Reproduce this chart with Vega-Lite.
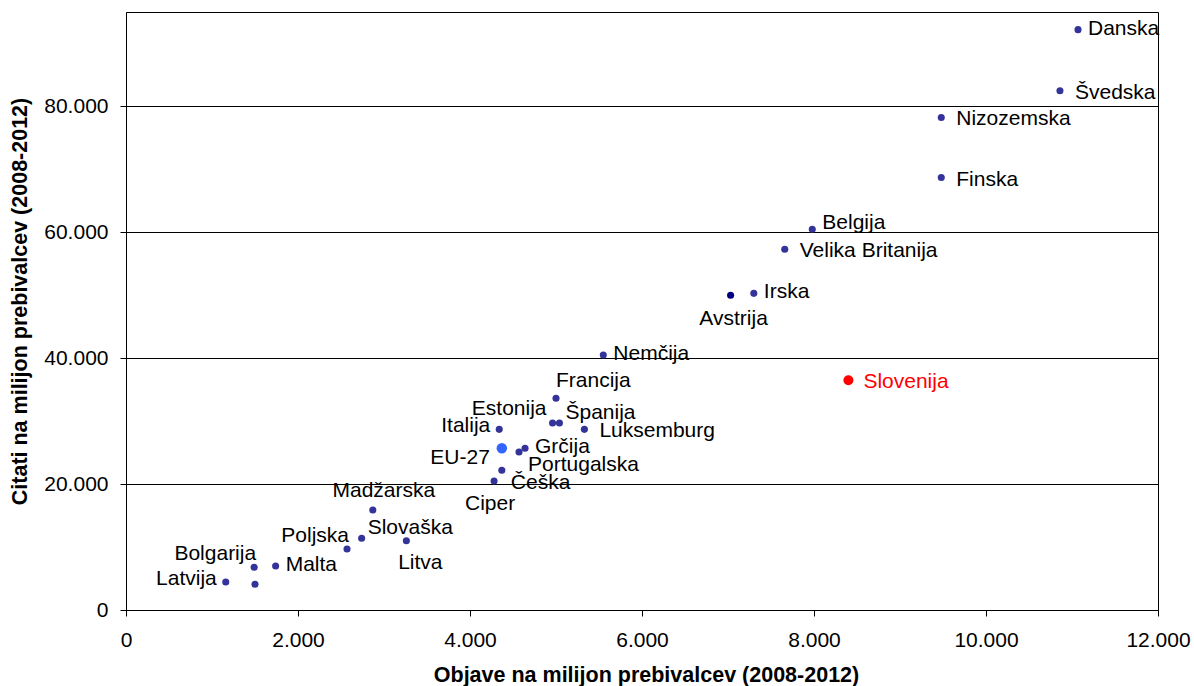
{
  "$schema": "https://vega.github.io/schema/vega-lite/v6.json",
  "width": 1032,
  "height": 598,
  "autosize": {"type": "none"},
  "padding": {"left": 126, "top": 12, "right": 36, "bottom": 76},
  "background": "white",
  "config": {
    "font": "Liberation Sans",
    "view": {"stroke": "black", "strokeWidth": 1},
    "axis": {
      "labelFont": "Liberation Sans",
      "titleFont": "Liberation Sans",
      "labelFontSize": 21,
      "titleFontSize": 21.5,
      "titleFontWeight": "bold",
      "labelColor": "black",
      "titleColor": "black",
      "domainColor": "black",
      "tickColor": "black",
      "tickSize": 6
    }
  },
  "data": {
    "values": [
      {"country": "Danska", "objave": 11070, "citati": 92200},
      {"country": "Švedska", "objave": 10860, "citati": 82500},
      {"country": "Nizozemska", "objave": 9480, "citati": 78250},
      {"country": "Finska", "objave": 9480, "citati": 68700},
      {"country": "Belgija", "objave": 7980, "citati": 60500},
      {"country": "Velika Britanija", "objave": 7660, "citati": 57300},
      {"country": "Irska", "objave": 7300, "citati": 50300},
      {"country": "Avstrija", "objave": 7030, "citati": 50000},
      {"country": "Nemčija", "objave": 5550, "citati": 40500},
      {"country": "Slovenija", "objave": 8400, "citati": 36500},
      {"country": "Francija", "objave": 5000, "citati": 33650},
      {"country": "Estonija", "objave": 4960, "citati": 29700},
      {"country": "Španija", "objave": 5040, "citati": 29700},
      {"country": "Luksemburg", "objave": 5330, "citati": 28700},
      {"country": "Italija", "objave": 4340, "citati": 28700},
      {"country": "EU-27", "objave": 4370, "citati": 25700},
      {"country": "Grčija", "objave": 4640, "citati": 25700},
      {"country": "Portugalska", "objave": 4570, "citati": 25100},
      {"country": "Češka", "objave": 4370, "citati": 22200},
      {"country": "Ciper", "objave": 4280, "citati": 20500},
      {"country": "Madžarska", "objave": 2870, "citati": 15900},
      {"country": "Slovaška", "objave": 2740, "citati": 11400},
      {"country": "Litva", "objave": 3260, "citati": 11000},
      {"country": "Poljska", "objave": 2570, "citati": 9700},
      {"country": "Malta", "objave": 1740, "citati": 7000},
      {"country": "Bolgarija", "objave": 1490, "citati": 6800},
      {"country": "Romunija", "objave": 1500, "citati": 4100},
      {"country": "Latvija", "objave": 1160, "citati": 4450}
    ]
  },
  "encoding": {
    "x": {
      "field": "objave", "type": "quantitative",
      "scale": {"domain": [0, 12000], "nice": false, "zero": true},
      "axis": {
        "title": "Objave na milijon prebivalcev (2008-2012)",
        "values": [0, 2000, 4000, 6000, 8000, 10000, 12000],
        "labelExpr": "replace(format(datum.value, ','), ',', '.')",
        "grid": false,
        "labelPadding": 13,
        "labelFlush": false,
        "titleX": 520, "titleY": 65, "titleAlign": "center", "titleBaseline": "middle"
      }
    },
    "y": {
      "field": "citati", "type": "quantitative",
      "scale": {"domain": [0, 95000], "nice": false, "zero": true},
      "axis": {
        "title": "Citati na milijon prebivalcev (2008-2012)",
        "values": [0, 20000, 40000, 60000, 80000],
        "labelExpr": "replace(format(datum.value, ','), ',', '.')",
        "grid": true,
        "gridColor": "black",
        "gridWidth": 1,
        "gridOpacity": 1,
        "labelPadding": 12,
        "labelFlush": false,
        "titleAngle": -90,
        "titleX": -106, "titleY": 289, "titleAlign": "center", "titleBaseline": "middle"
      }
    }
  },
  "layer": [
    {
      "mark": {"type": "point", "filled": true, "opacity": 1, "strokeWidth": 0},
      "encoding": {
        "color": {
          "condition": [
            {"test": "datum.country === 'Slovenija'", "value": "#FF0000"},
            {"test": "datum.country === 'EU-27'", "value": "#3366FF"},
            {"test": "datum.country === 'Avstrija'", "value": "#000080"}
          ],
          "value": "#333399"
        },
        "size": {
          "condition": [
            {"test": "datum.country === 'Slovenija'", "value": 100},
            {"test": "datum.country === 'EU-27'", "value": 110}
          ],
          "value": 50
        }
      }
    },
    {
      "transform": [{"filter": {"field": "country", "oneOf": ["Švedska", "Nizozemska", "Finska", "Velika Britanija", "Slovenija", "Luksemburg"]}}],
      "mark": {"type": "text", "align": "left", "baseline": "middle", "dx": 15, "dy": 2, "fontSize": 21, "font": "Liberation Sans"},
      "encoding": {
        "text": {"field": "country"},
        "color": {"condition": {"test": "datum.country === 'Slovenija'", "value": "#FF0000"}, "value": "black"}
      }
    },
    {
      "transform": [{"filter": {"field": "country", "oneOf": ["Danska", "Irska", "Nemčija", "Malta", "Grčija"]}}],
      "mark": {"type": "text", "align": "left", "baseline": "middle", "dx": 10, "dy": -1, "fontSize": 21, "font": "Liberation Sans", "color": "black"},
      "encoding": {"text": {"field": "country"}}
    },
    {
      "transform": [{"filter": {"field": "country", "oneOf": ["Belgija"]}}],
      "mark": {"type": "text", "align": "left", "baseline": "middle", "dx": 10, "dy": -6, "fontSize": 21, "font": "Liberation Sans", "color": "black"},
      "encoding": {"text": {"field": "country"}}
    },
    {
      "transform": [{"filter": {"field": "country", "oneOf": ["Španija", "Slovaška"]}}],
      "mark": {"type": "text", "align": "left", "baseline": "middle", "dx": 6, "dy": -10, "fontSize": 21, "font": "Liberation Sans", "color": "black"},
      "encoding": {"text": {"field": "country"}}
    },
    {
      "transform": [{"filter": {"field": "country", "oneOf": ["Portugalska", "Češka"]}}],
      "mark": {"type": "text", "align": "left", "baseline": "middle", "dx": 9, "dy": 13, "fontSize": 21, "font": "Liberation Sans", "color": "black"},
      "encoding": {"text": {"field": "country"}}
    },
    {
      "transform": [{"filter": {"field": "country", "oneOf": ["Francija"]}}],
      "mark": {"type": "text", "align": "left", "baseline": "middle", "dx": 0, "dy": -17, "fontSize": 21, "font": "Liberation Sans", "color": "black"},
      "encoding": {"text": {"field": "country"}}
    },
    {
      "transform": [{"filter": {"field": "country", "oneOf": ["Latvija", "Italija"]}}],
      "mark": {"type": "text", "align": "right", "baseline": "middle", "dx": -9, "dy": -3, "fontSize": 21, "font": "Liberation Sans", "color": "black"},
      "encoding": {"text": {"field": "country"}}
    },
    {
      "transform": [{"filter": {"field": "country", "oneOf": ["EU-27"]}}],
      "mark": {"type": "text", "align": "right", "baseline": "middle", "dx": -12, "dy": 10, "fontSize": 21, "font": "Liberation Sans", "color": "black"},
      "encoding": {"text": {"field": "country"}}
    },
    {
      "transform": [{"filter": {"field": "country", "oneOf": ["Bolgarija", "Poljska"]}}],
      "mark": {"type": "text", "align": "right", "baseline": "middle", "dx": 2, "dy": -13, "fontSize": 21, "font": "Liberation Sans", "color": "black"},
      "encoding": {"text": {"field": "country"}}
    },
    {
      "transform": [{"filter": {"field": "country", "oneOf": ["Estonija"]}}],
      "mark": {"type": "text", "align": "right", "baseline": "middle", "dx": -6, "dy": -14, "fontSize": 21, "font": "Liberation Sans", "color": "black"},
      "encoding": {"text": {"field": "country"}}
    },
    {
      "transform": [{"filter": {"field": "country", "oneOf": ["Madžarska"]}}],
      "mark": {"type": "text", "align": "center", "baseline": "middle", "dx": 11, "dy": -19, "fontSize": 21, "font": "Liberation Sans", "color": "black"},
      "encoding": {"text": {"field": "country"}}
    },
    {
      "transform": [{"filter": {"field": "country", "oneOf": ["Avstrija"]}}],
      "mark": {"type": "text", "align": "center", "baseline": "middle", "dx": 3, "dy": 24, "fontSize": 21, "font": "Liberation Sans", "color": "black"},
      "encoding": {"text": {"field": "country"}}
    },
    {
      "transform": [{"filter": {"field": "country", "oneOf": ["Ciper"]}}],
      "mark": {"type": "text", "align": "center", "baseline": "middle", "dx": -4, "dy": 23, "fontSize": 21, "font": "Liberation Sans", "color": "black"},
      "encoding": {"text": {"field": "country"}}
    },
    {
      "transform": [{"filter": {"field": "country", "oneOf": ["Litva"]}}],
      "mark": {"type": "text", "align": "center", "baseline": "middle", "dx": 14, "dy": 22, "fontSize": 21, "font": "Liberation Sans", "color": "black"},
      "encoding": {"text": {"field": "country"}}
    }
  ]
}
